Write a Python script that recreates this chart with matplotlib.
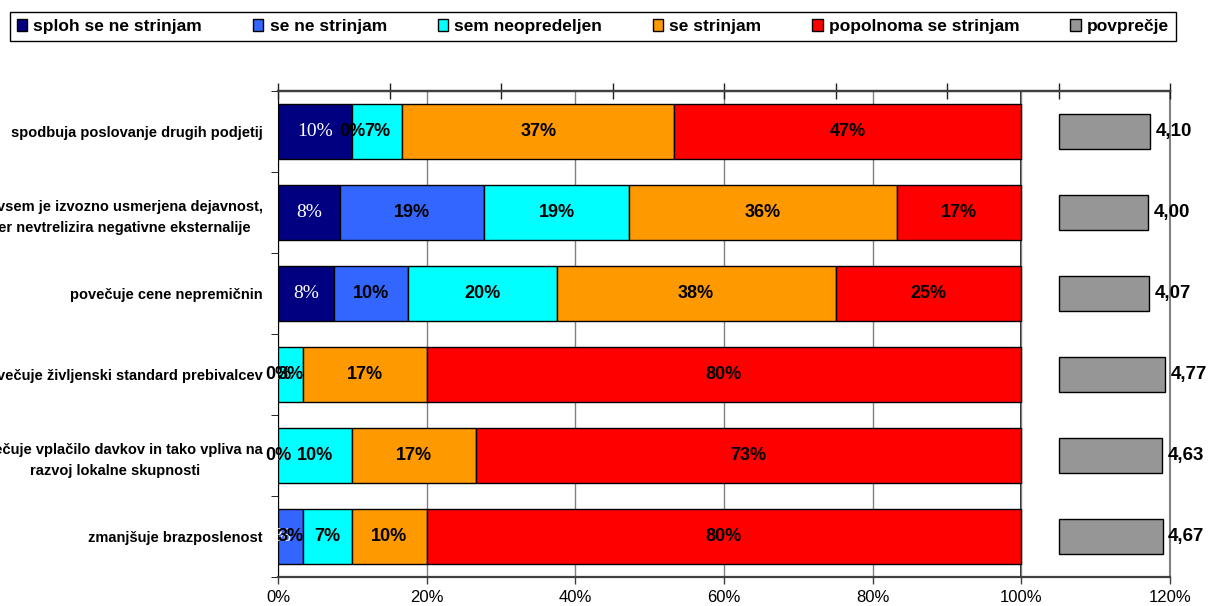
import matplotlib
matplotlib.use("Agg")
import matplotlib.pyplot as plt
from matplotlib.patches import Patch

categories = [
    "spodbuja poslovanje drugih podjetij",
    "povsem je izvozno usmerjena dejavnost,\nker nevtrelizira negativne eksternalije",
    "povečuje cene nepremičnin",
    "povečuje življenski standard prebivalcev",
    "povečuje vplačilo davkov in tako vpliva na\nrazvoj lokalne skupnosti",
    "zmanjšuje brazposlenost",
]
series_names = ["sploh se ne strinjam", "se ne strinjam", "sem neopredeljen",
                "se strinjam", "popolnoma se strinjam"]
sploh_ne = [10.0, 8.33, 7.5, 0.0, 0.0, 0.0]
se_ne = [0.0, 19.44, 10.0, 0.0, 0.0, 3.33]
neopredeljen = [6.67, 19.44, 20.0, 3.33, 10.0, 6.67]
se_strinjam = [36.67, 36.11, 37.5, 16.67, 16.67, 10.0]
popolnoma = [46.67, 16.67, 25.0, 80.0, 73.33, 80.0]
povprecje = [4.10, 4.00, 4.07, 4.77, 4.63, 4.67]
avg_name = "povprečje"

colors = ["#000080", "#3366FF", "#00FFFF", "#FF9900", "#FF0000"]
gray = "#969696"

plt.rcParams['font.family'] = ['Liberation Sans', 'DejaVu Sans']

fig = plt.figure(figsize=(12.08, 6.06), dpi=100)
L, R, T, B = 278, 1170, 91, 577
ax = fig.add_axes([L / 1208, 1 - B / 606, (R - L) / 1208, (B - T) / 606])

ypos = list(range(len(categories)))
series = [sploh_ne, se_ne, neopredeljen, se_strinjam, popolnoma]
left = [0.0] * len(categories)
bh = 0.68
for si, vals in enumerate(series):
    ax.barh(ypos, vals, left=left, height=bh, color=colors[si],
            edgecolor="black", linewidth=1.0, zorder=3)
    for i, v in enumerate(vals):
        cx = left[i] + v / 2
        txt = f"{int(v + 0.5)}%"
        if si == 0:
            ax.text(cx, i, txt, ha="center", va="center", color="white",
                    family="Liberation Serif", fontsize=14, zorder=5)
        else:
            ax.text(cx, i, txt, ha="center", va="center", color="black",
                    fontweight="bold", fontsize=13, zorder=5)
    left = [left[i] + vals[i] for i in range(len(vals))]

ax.set_xlim(0, 120)
ax.set_ylim(len(categories) - 0.5, -0.5)
ax.set_xticks(range(0, 121, 20))
ax.set_xticklabels([f"{x}%" for x in range(0, 121, 20)], fontsize=12)
ax.tick_params(axis="x", direction="out", length=5, width=1, pad=4,
               color="#404040")
ax.grid(axis="x", color="#808080", linewidth=1, zorder=0)
ax.axvline(100, color="black", linewidth=1.2, zorder=1)

ax.set_yticks(ypos)
ax.set_yticklabels(categories, fontsize=10.5, fontweight="bold")
for t in ax.get_yticklabels():
    t.set_multialignment("center")
    t.set_linespacing(1.6)
ax.tick_params(axis="y", length=0, pad=11)
ax.set_yticks([i - 0.5 for i in range(len(categories) + 1)], minor=True)
ax.tick_params(axis="y", which="minor", length=5, direction="out", color="black")

for s in ["bottom", "top"]:
    ax.spines[s].set_color("#404040")
    ax.spines[s].set_linewidth(1.6)
ax.spines["left"].set_color("black")
ax.spines["right"].set_color("#808080")
ax.spines["right"].set_linewidth(1.5)

ax2 = ax.twiny()
ax2.set_xlim(-35, 5)
ax2.barh(ypos, povprecje, height=0.43, color=gray, edgecolor="black",
         linewidth=1.0, zorder=3)
for i, v in enumerate(povprecje):
    ax2.text(v + 0.25, i, f"{v:.2f}".replace(".", ","), ha="left", va="center",
             fontsize=13.5, fontweight="bold", clip_on=False, zorder=6)
ax2.set_xticks(range(-35, 6, 5))
ax2.set_xticklabels([])
ax2.tick_params(axis="x", direction="inout", length=12, width=1, color="#202020")
ax2.set_ylim(len(categories) - 0.5, -0.5)
for s in ax2.spines.values():
    s.set_visible(False)
ax2.spines["top"].set_visible(True)
ax2.spines["top"].set_color("#404040")
ax2.spines["top"].set_linewidth(1.6)

handles = [Patch(facecolor=c, edgecolor="black", linewidth=1) for c in colors]
handles.append(Patch(facecolor=gray, edgecolor="black", linewidth=1))
labels = series_names + [avg_name]
leg = fig.legend(handles, labels, ncol=6, loc="upper left", mode="expand",
                 bbox_to_anchor=(10 / 1208, 1 - 12 / 606, 1166 / 1208, 0.0),
                 prop={"weight": "bold", "size": 12.5},
                 handlelength=0.6, handleheight=0.7, handletextpad=0.35,
                 columnspacing=1.0, borderpad=0.4, borderaxespad=0,
                 fancybox=False, framealpha=1, edgecolor="black")
leg.get_frame().set_linewidth(1.0)

fig.savefig("out.png", dpi=100)
